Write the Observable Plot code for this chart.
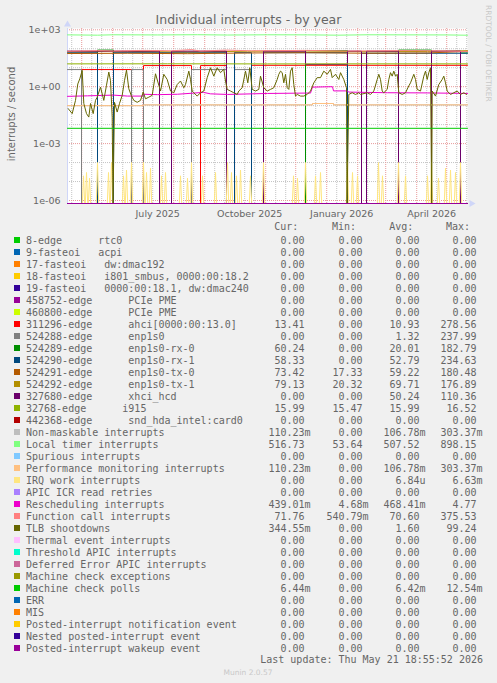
<!DOCTYPE html>
<html><head><meta charset="utf-8">
<script src="https://cdn.jsdelivr.net/npm/d3@7"></script>
<script src="https://cdn.jsdelivr.net/npm/@observablehq/plot@0.6"></script>
<style>
html,body{margin:0;padding:0;background:#f0f0f0;}
#wrap{position:relative;width:497px;height:683px;background:#f0f0f0;overflow:hidden;}
#chart{position:absolute;left:0;top:0;}
#over{position:absolute;left:0;top:0;pointer-events:none;}
</style></head>
<body><div id="wrap"><svg id="over" width="497" height="683"></svg><div id="chart"></div></div>
<script>
// ---------- time frame (yearly graph: 400 days ending at last update) ----------
const endTime = Date.UTC(2026, 4, 21, 18, 55, 52);
const spanDays = 400;
const startTime = endTime - spanDays * 864e5;
const dayToDate = d => new Date(startTime + d * 864e5);

// ---------- text ----------
const title = "Individual interrupts - by year";
const yLabel = "interrupts / second";
const credit = "RRDTOOL / TOBI OETIKER";
const lastUpdate = "Last update: Thu May 21 18:55:52 2026";
const version = "Munin 2.0.57";
const headers = ["Cur:", "Min:", "Avg:", "Max:"];

// ---------- legend ----------
const names = [
  "8-edge      rtc0",
  "9-fasteoi   acpi",
  "17-fasteoi   dw:dmac192",
  "18-fasteoi   i801_smbus, 0000:00:18.2",
  "19-fasteoi   0000:00:18.1, dw:dmac240",
  "458752-edge      PCIe PME",
  "460800-edge      PCIe PME",
  "311296-edge      ahci[0000:00:13.0]",
  "524288-edge      enp1s0",
  "524289-edge      enp1s0-rx-0",
  "524290-edge      enp1s0-rx-1",
  "524291-edge      enp1s0-tx-0",
  "524292-edge      enp1s0-tx-1",
  "327680-edge      xhci_hcd",
  "32768-edge      i915",
  "442368-edge      snd_hda_intel:card0",
  "Non-maskable interrupts",
  "Local timer interrupts",
  "Spurious interrupts",
  "Performance monitoring interrupts",
  "IRQ work interrupts",
  "APIC ICR read retries",
  "Rescheduling interrupts",
  "Function call interrupts",
  "TLB shootdowns",
  "Thermal event interrupts",
  "Threshold APIC interrupts",
  "Deferred Error APIC interrupts",
  "Machine check exceptions",
  "Machine check polls",
  "ERR",
  "MIS",
  "Posted-interrupt notification event",
  "Nested posted-interrupt event",
  "Posted-interrupt wakeup event"
];
const colors = [
  "#00CC00","#0066B3","#FF8000","#FFCC00","#330099","#990099","#CCFF00","#FF0000",
  "#808080","#008F00","#00487D","#B35A00","#B38F00","#6B006B","#8FB300","#B30000",
  "#BEBEBE","#80FF80","#80C9FF","#FFC080","#FFE680","#AA80FF","#EE00CC","#FF8080",
  "#666600","#FFBFFF","#00FFCC","#CC6699","#999900","#00CC00","#0066B3","#FF8000",
  "#FFCC00","#330099","#990099"
];
const curVals = ["0.00","0.00","0.00","0.00","0.00","0.00","0.00","13.41","0.00","60.24","58.33","73.42","79.13","0.00","15.99","0.00","110.23m","516.73","0.00","110.23m","0.00","0.00","439.01m","71.76","344.55m","0.00","0.00","0.00","0.00","6.44m","0.00","0.00","0.00","0.00","0.00"];
const minVals = ["0.00","0.00","0.00","0.00","0.00","0.00","0.00","0.00","0.00","0.00","0.00","17.33","20.32","0.00","15.47","0.00","0.00","53.64","0.00","0.00","0.00","0.00","4.68m","540.79m","0.00","0.00","0.00","0.00","0.00","0.00","0.00","0.00","0.00","0.00","0.00"];
const avgVals = ["0.00","0.00","0.00","0.00","0.00","0.00","0.00","10.93","1.32","20.01","52.79","59.22","69.71","50.24","15.99","0.00","106.78m","507.52","0.00","106.78m","6.84u","0.00","468.41m","70.60","1.60","0.00","0.00","0.00","0.00","6.42m","0.00","0.00","0.00","0.00","0.00"];
const maxVals = ["0.00","0.00","0.00","0.00","0.00","0.00","0.00","278.56","237.99","182.79","234.63","180.48","176.89","110.36","16.52","0.00","303.37m","898.15","0.00","303.37m","6.63m","0.00","4.77","375.53","99.24","0.00","0.00","0.00","0.00","12.54m","0.00","0.00","0.00","0.00","0.00"];

// ---------- series (day index since graph start, value per second) ----------
// on/off series as [fromDay, toDay, rate] segments; zero elsewhere
const ahciSegs = [[14,64,8],[76,124,13],[133,159,13],[184,400,13.4]];
const enpSegs  = [[0,14,8],[64,76,8],[124,159,8],[167,184,8]];
const rx0Segs  = [[30,46,85],[238,280,80],[331,364,85],[393,400,60]];
const rx1Segs  = [[0,30,62],[46,159,62],[167,184,62],[196,280,62],[294,400,58]];
const xhciSegs = [[0,92,75],[104,159,75],[196,238,75],[238,280,15],[280,294,75],[299,331,75],[364,393,75]];
const perfSegs = [[0,76,0.10],[76,245,0.11],[245,266,0.13],[266,400,0.11]];
// continuous series as [day, rate]
const tx0Pts   = [[0,56],[60,58],[120,55],[180,60],[240,62],[300,58],[360,60],[400,73]];
const tx1Pts   = [[0,70],[60,72],[120,68],[180,74],[240,76],[300,70],[360,72],[400,79]];
const i915Pts  = [[0,15.99],[100,16.1],[200,15.9],[300,16],[400,15.99]];
const localPts = [[0,540],[30,520],[46,545],[90,535],[130,550],[160,530],[200,545],[240,540],[270,520],[300,545],[340,540],[380,535],[400,517]];
const funcPts  = [[0,74],[30,80],[46,76],[76,82],[104,78],[124,90],[133,76],[159,85],[184,78],[238,82],[280,76],[331,80],[364,78],[400,72]];
const mcpPts   = [[0,0.0064],[200,0.0064],[400,0.0064]];
const reschedPts = [[0,0.31],[20,0.33],[46,0.36],[60,0.32],[75,0.32],[76,0.40],[90,0.38],[110,0.40],[136,0.50],[143,0.42],[160,0.39],[200,0.44],[238,0.46],[243,0.46],[245,0.95],[265,1.0],[266,0.6],[280,0.6],[281,0.52],[320,0.48],[360,0.47],[400,0.44]];
const tlbPts = [
  [0.7,0.07],[4.7,0.038],[8,0.19],[10.3,1.4],[12.3,2.6],[14.7,7.2],[16.3,0.13],[19,0.038],[21.3,0.025],[23,0.13],
  [25.7,0.038],[28,0.19],[29.7,0.28],[33,0.95],[36.3,0.19],[39,1.2],[41.3,5.9],[43,2.1],[44.7,0.025],[45.5,0],
  [47,0.15],[49.7,0.046],[52,0.13],[54.7,0.35],[57,2.1],[59,7.5],[61.3,0.78],[63.7,0.35],[66.3,0.19],[69.7,0.15],
  [73,0.19],[75.7,0.52],[78,0.23],[81.3,0.28],[84.7,0.35],[88,4.8],[91.3,1.2],
  [93,0.59],[96.3,4.5],[99.7,2.4],[103,0.59],[106.3,0.48],[109.7,1.3],[113,2.0],[116.3,0.88],[118,1.3],[121.3,6.6],
  [123,2.4],[124.7,0.59],[126.3,0.48],[129.7,0.32],[133,0.48],[136.3,0.59],[139.7,3.0],[143,10],[146.3,3.6],[149.7,10],
  [153,5.5],[156.3,8.2],[158,2.0],[159.7,0.72],[163,0.59],[166.3,0.48],[169.7,0.39],[171.3,0.59],[174.7,0.88],[178,6.6],
  [180.3,1.6],[182.3,10],[184.7,0.72],[188,0.59],[191.3,0.72],
  [193,3.6],[196.3,0.88],[199.7,0.59],[203,0.72],[206.3,0.88],[209.7,2.4],[211.3,4.5],[213,6.6],[214.7,5.5],[216.3,1.6],
  [218,4.5],[219.7,0.88],[221.3,0.72],[223,6.6],[224.7,10],[226.3,1.3],[228,0.32],[229.7,0.39],[233,0.32],[236.3,0.32],
  [239.7,0.39],[243,0.59],[246.3,1.6],[249.7,3.0],[253,3.0],[256.3,6.6],[259.7,4.5],[263,8.2],[264.7,3.0],[268,4.5],
  [271.3,2.4],[273,5.5],[276.3,2.4],[279,0.88],[279.5,0],[281.3,0.39],[284.7,0.48],[288,0.39],[291.3,0.48],
  [293,0.39],[299.7,0.48],[303,0.39],[306.3,0.59],[309.7,2.4],[311.3,4.5],[313,2.4],[314.7,0.59],[316.3,0.48],[319.7,0.72],
  [321.3,2.4],[323,5.5],[324.7,3.6],[326.3,6.6],[328,3.6],[329.7,4.5],[331.3,0.48],[334.7,0.39],[338,0.48],[341.3,1.1],
  [343,1.6],[346.3,4.5],[348,2.4],[349.7,0.72],[353,0.59],[356.3,3.6],[358,6.6],[359.7,2.4],[361.3,5.5],[363,10],
  [364.2,0],[364.7,0.59],[368,0.32],[371.3,1.3],[374.7,2.4],[376.3,3.6],[378,1.6],[379.7,0.59],[383,0.39],[386.3,0.48],
  [389.7,0.59],[393,0.39],[396.3,0.48],[399,0.39]
];
const irqSpikes = [[16,2e-5],[19,3e-5],[22,1.5e-5],[30,1e-4],[41,3e-5],[44,1e-4],[56,2e-5],[59,4e-5],[64,1e-4],[76,1e-4],
  [79,3e-5],[83,5e-5],[94,2e-5],[98,3e-5],[113,2e-5],[120,1.5e-5],[124,1e-4],[135,2e-5],[148,3e-5],[160,1e-4],
  [164,3e-5],[169,2e-5],[173,4e-5],[183,2e-5],[196,1e-4],[226,2e-5],[230,1.5e-5],[238,1e-4],[248,2e-5],[253,3e-5],
  [280,1e-4],[285,3e-5],[290,2e-5],[311,1e-4],[315,2e-5],[331,1e-4],[338,2e-5],[360,2e-5],[364,1e-4],[371,1.5e-5],
  [378,5e-5],[383,4e-5],[388,3e-5],[393,1e-4]];
const zeroPts = [[0,0],[400,0]];

// ---------- axis ticks ----------
const yTickVals = [1e-6, 1e-3, 1, 1e3];
const yGridVals = [1e-6,1e-5,1e-4,1e-3,1e-2,1e-1,1,1e1,1e2,1e3];
const xLabelDates = [Date.UTC(2025,6,16), Date.UTC(2025,9,16), Date.UTC(2026,0,16), Date.UTC(2026,3,16)].map(t => new Date(t));

// ---------- helpers ----------
function fromSegs(segs) {
  const pts = [];
  if (segs[0][0] > 0) pts.push([0, 0]);
  segs.forEach(([a, b, v], i) => {
    const contPrev = i > 0 && segs[i - 1][1] === a;
    if (!contPrev && a > 0) pts.push([a, 0]);
    pts.push([a, v], [b, v]);
    const next = segs[i + 1];
    if (!(next && next[0] === b) && b < spanDays) pts.push([b, 0]);
  });
  if (segs[segs.length - 1][1] < spanDays) pts.push([spanDays, 0]);
  return pts;
}
function fromSpikes(sp) {
  const pts = [[0, 0]];
  sp.forEach(([d, v]) => pts.push([d - 1.2, 0], [d, v], [d + 1.2, 0]));
  pts.push([spanDays, 0]);
  return pts;
}

const seriesPts = [
  zeroPts, zeroPts, zeroPts, zeroPts, zeroPts, zeroPts, zeroPts,
  fromSegs(ahciSegs), fromSegs(enpSegs), fromSegs(rx0Segs), fromSegs(rx1Segs),
  tx0Pts, tx1Pts, fromSegs(xhciSegs), i915Pts, zeroPts,
  fromSegs(perfSegs), localPts, zeroPts, fromSegs(perfSegs), fromSpikes(irqSpikes),
  zeroPts, reschedPts, funcPts, tlbPts, zeroPts, zeroPts, zeroPts, zeroPts, mcpPts,
  zeroPts, zeroPts, zeroPts, zeroPts, zeroPts
];

const yMin = 6.95e-7, yMax = 1.17e3;
const startDate = dayToDate(0), endDate = dayToDate(spanDays);
const monthStarts = d3.utcMonth.range(startDate, endDate);
const minorDates = d3.utcMonth.range(d3.utcMonth.floor(startDate), endDate)
  .flatMap(m => [11, 21].map(day => new Date(Date.UTC(m.getUTCFullYear(), m.getUTCMonth(), day))))
  .filter(d => d > startDate && d < endDate);
const fmtE = v => { const e = Math.round(Math.log10(v)); return "1e" + (e < 0 ? "-" : "+") + String(Math.abs(e)).padStart(2, "0"); };
const fmtMonth = d3.utcFormat("%B %Y");

const lineMarks = seriesPts.map((pts, i) => Plot.line(pts, {
  x: p => dayToDate(p[0]),
  y: p => Math.max(p[1], yMin),
  stroke: colors[i], strokeWidth: 1, strokeLinejoin: "miter"
}));

const chart = Plot.plot({
  width: 497, height: 222,
  marginLeft: 67, marginRight: 30, marginTop: 28, marginBottom: 19,
  style: {background: "transparent", fontFamily: "DejaVu Sans", fontSize: "9.5px", color: "#666", overflow: "visible"},
  x: {type: "utc", domain: [startDate, endDate]},
  y: {type: "log", domain: [yMin, yMax]},
  marks: [
    Plot.frame({fill: "white", stroke: null}),
    Plot.ruleY(yGridVals.filter(v => !yTickVals.includes(v)), {stroke: "#c4c4c4", strokeDasharray: "1,1"}),
    Plot.ruleX(minorDates, {stroke: "#c4c4c4", strokeDasharray: "1,1"}),
    Plot.ruleY(yTickVals, {stroke: "#e89a9a", strokeDasharray: "1,1"}),
    Plot.ruleX(monthStarts, {stroke: "#e89a9a", strokeDasharray: "1,1"}),
    Plot.ruleX([startDate], {stroke: "#CFD6F8"}),
    ...lineMarks,
    Plot.dot([0], {x: () => startDate, y: () => yMax, dy: -4, symbol: "triangle", r: 2.6, fill: "#CFD6F8", stroke: null}),
    Plot.dot([0], {x: () => endDate, y: () => yMin, dx: 4, symbol: "triangle", rotate: 90, r: 2.6, fill: "#CFD6F8", stroke: null}),
    Plot.axisY({ticks: yTickVals, tickFormat: fmtE, tickSize: 0, tickPadding: 7, label: null}),
    Plot.axisX({ticks: xLabelDates, tickFormat: fmtMonth, tickSize: 0, tickPadding: 6.5, label: null})
  ]
});
document.getElementById("chart").appendChild(chart);

// ---------- overlay text: title, axis label, credit, legend ----------
const svg = d3.select("#over");
const txtColor = "#666666";
svg.append("text").attr("x", 248.5).attr("y", 24).attr("text-anchor", "middle")
  .attr("font-family", "DejaVu Sans").attr("font-size", 12.5).attr("fill", txtColor).text(title);
svg.append("text").attr("transform", "translate(15,114) rotate(-90)").attr("text-anchor", "middle")
  .attr("font-family", "DejaVu Sans").attr("font-size", 10).attr("fill", txtColor).text(yLabel);
svg.append("text").attr("transform", "translate(485.5,5) rotate(90)").attr("text-anchor", "start")
  .attr("font-family", "DejaVu Sans").attr("font-size", 7.5).attr("fill", "#c8c8c8").text(credit);

const mono = "DejaVu Sans Mono";
const colNumX = [304.5, 362.5, 419.5, 476.5];
const colHeadX = [298.3, 356, 413.3, 470];
headers.forEach((h, k) => svg.append("text").attr("x", colHeadX[k]).attr("y", 230.2).attr("text-anchor", "end")
  .attr("font-family", mono).attr("font-size", 10).attr("fill", txtColor).text(h));
const allVals = [curVals, minVals, avgVals, maxVals];
names.forEach((name, i) => {
  const cy = 240 + 12 * i;
  svg.append("rect").attr("x", 14).attr("y", cy - 3).attr("width", 6).attr("height", 6).attr("fill", colors[i]);
  svg.append("text").attr("x", 26).attr("y", cy + 3.5).style("white-space", "pre")
    .attr("font-family", mono).attr("font-size", 10).attr("fill", txtColor).text(name);
  allVals.forEach((arr, k) => {
    const m = arr[i].match(/^([\d.]+)(\D?)$/);
    svg.append("text").attr("x", colNumX[k]).attr("y", cy + 3.5).attr("text-anchor", "end")
      .attr("font-family", mono).attr("font-size", 10).attr("fill", txtColor).text(m[1]);
    if (m[2]) svg.append("text").attr("x", colNumX[k]).attr("y", cy + 3.5).attr("text-anchor", "start")
      .attr("font-family", mono).attr("font-size", 10).attr("fill", txtColor).text(m[2]);
  });
});
svg.append("text").attr("x", 483).attr("y", 663.2).attr("text-anchor", "end")
  .attr("font-family", mono).attr("font-size", 10).attr("fill", txtColor).text(lastUpdate);
svg.append("text").attr("x", 248).attr("y", 675).attr("text-anchor", "middle")
  .attr("font-family", "DejaVu Sans").attr("font-size", 7.5).attr("fill", "#c8c8c8").text(version);
</script></body></html>
